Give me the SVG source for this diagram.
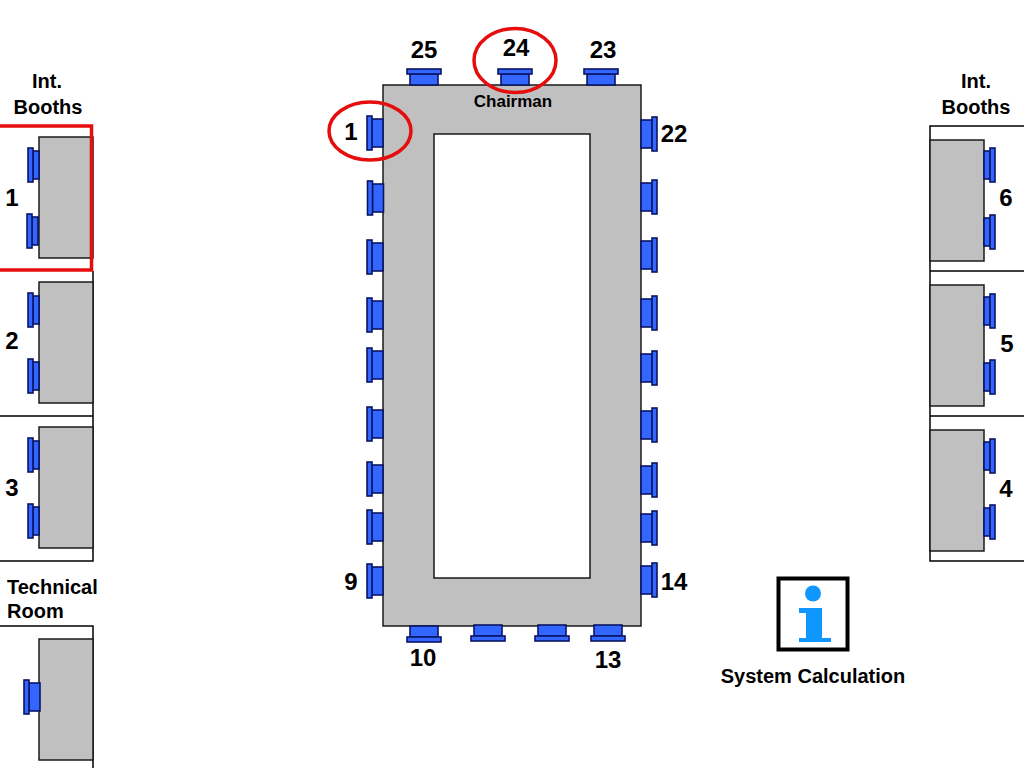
<svg xmlns="http://www.w3.org/2000/svg" xmlns:xlink="http://www.w3.org/1999/xlink" width="1024" height="768" viewBox="0 0 1024 768">
<style>
text{font-family:"Liberation Sans",Arial,sans-serif;font-weight:700;fill:#000}
.n{font-size:24px;text-anchor:middle}
.l{font-size:20px}
.c{text-anchor:middle}
.g{fill:#c0c0c0;stroke:#1a1a1a;stroke-width:1.500}
.b{fill:none;stroke:#000;stroke-width:1.500}
.r{fill:none;stroke:#e60d0d;stroke-width:3.500}
.m{fill:#3366ff;stroke:#0a1464;stroke-width:1.600}
</style>
<defs>
<g id="tl"><rect class="m" x="-11" y="-14" width="11" height="28"/><rect class="m" x="-16" y="-17" width="5" height="34"/></g>
<g id="tr"><rect class="m" x="0" y="-14" width="11" height="28"/><rect class="m" x="11" y="-17" width="5" height="34"/></g>
<g id="tt"><rect class="m" x="-14" y="-11" width="28" height="11"/><rect class="m" x="-17" y="-16" width="34" height="5"/></g>
<g id="tb"><rect class="m" x="-14" y="0" width="28" height="11"/><rect class="m" x="-17" y="11" width="34" height="5"/></g>
<g id="bl"><rect class="m" x="-6" y="-14" width="6" height="28"/><rect class="m" x="-11" y="-17" width="5" height="34"/></g>
<g id="br"><rect class="m" x="0" y="-14" width="6" height="28"/><rect class="m" x="6" y="-17" width="5" height="34"/></g>
</defs>
<g id="table">
<path class="g" fill-rule="evenodd" d="M383 85H641V626H383ZM434 134V578H590V134Z"/>
<text x="513" y="107" font-size="17" class="c">Chairman</text>
</g>
<g id="mics-left">
<use href="#tl" x="383" y="133"/><use href="#tl" x="383.500" y="198"/><use href="#tl" x="383" y="257"/><use href="#tl" x="383" y="315"/><use href="#tl" x="383" y="365"/><use href="#tl" x="383" y="424"/><use href="#tl" x="383" y="479"/><use href="#tl" x="383" y="527"/><use href="#tl" x="383" y="581"/>
</g>
<g id="mics-right">
<use href="#tr" x="641" y="134"/><use href="#tr" x="641" y="197"/><use href="#tr" x="641" y="255"/><use href="#tr" x="641" y="313"/><use href="#tr" x="641" y="368"/><use href="#tr" x="641" y="425"/><use href="#tr" x="641" y="480"/><use href="#tr" x="641" y="528"/><use href="#tr" x="641" y="580"/>
</g>
<g id="mics-top">
<use href="#tt" x="424" y="85"/><use href="#tt" x="515" y="85"/><use href="#tt" x="601" y="85"/>
</g>
<g id="mics-bottom">
<use href="#tb" x="424" y="626"/><use href="#tb" x="488" y="625"/><use href="#tb" x="552" y="625"/><use href="#tb" x="608" y="625"/>
</g>
<g id="seat-labels">
<text class="n" x="424" y="58">25</text><text class="n" x="516" y="56">24</text><text class="n" x="603" y="58">23</text>
<text class="n" x="351" y="140">1</text><text class="n" x="674" y="142">22</text>
<text class="n" x="351" y="590">9</text><text class="n" x="674" y="590">14</text>
<text class="n" x="423" y="666">10</text><text class="n" x="608" y="668">13</text>
</g>
<g id="highlights">
<ellipse class="r" cx="370" cy="131" rx="41" ry="29"/>
<ellipse class="r" cx="515" cy="60.500" rx="41" ry="32"/>
</g>
<g id="booths-left">
<text class="l c" x="47" y="88">Int.</text><text class="l c" x="48" y="114">Booths</text>
<path class="b" d="M93 271V561H0M0 416H93"/>
<g id="booth-1"><rect class="g" x="39" y="137" width="54" height="121"/><use href="#bl" x="39" y="165"/><use href="#bl" x="38" y="231"/><text class="n" x="12" y="206">1</text></g>
<g id="booth-2"><rect class="g" x="39" y="282" width="54" height="121"/><use href="#bl" x="39" y="310"/><use href="#bl" x="39" y="376"/><text class="n" x="12" y="349">2</text></g>
<g id="booth-3"><rect class="g" x="39" y="427" width="54" height="121"/><use href="#bl" x="39" y="455"/><use href="#bl" x="39" y="521"/><text class="n" x="12" y="496">3</text></g>
<rect id="booth-1-highlight" x="-4" y="126" width="95.500" height="144" fill="none" stroke="#e60d0d" stroke-width="3.500"/>
</g>
<g id="technical-room">
<text class="l" x="7" y="594">Technical</text><text class="l" x="7" y="618">Room</text>
<path class="b" d="M0 626H93V768"/>
<rect class="g" x="39" y="639" width="54" height="121"/>
<rect class="m" x="29" y="683" width="11" height="28"/><rect class="m" x="24" y="680" width="5" height="34"/>
</g>
<g id="booths-right">
<text class="l c" x="976" y="88">Int.</text><text class="l c" x="976" y="114">Booths</text>
<path class="b" d="M1024 126H930V561H1024M930 271H1024M930 416H1024"/>
<g id="booth-6"><rect class="g" x="930" y="140" width="54" height="121"/><use href="#br" x="984" y="165"/><use href="#br" x="984" y="232"/><text class="n" x="1006" y="206">6</text></g>
<g id="booth-5"><rect class="g" x="930" y="285" width="54" height="121"/><use href="#br" x="984" y="311"/><use href="#br" x="984" y="377"/><text class="n" x="1007" y="352">5</text></g>
<g id="booth-4"><rect class="g" x="930" y="430" width="54" height="121"/><use href="#br" x="984" y="456"/><use href="#br" x="984" y="522"/><text class="n" x="1006" y="497">4</text></g>
</g>
<g id="system-calculation">
<rect x="778.500" y="578.500" width="69" height="71" fill="#fff" stroke="#000" stroke-width="4"/>
<circle cx="813" cy="593.500" r="8" fill="#0f97ff"/>
<path fill="#0f97ff" d="M799 608H822V638H831V642H799V638H806V613H799Z"/>
<text class="l c" x="813" y="683">System Calculation</text>
</g>
</svg>
